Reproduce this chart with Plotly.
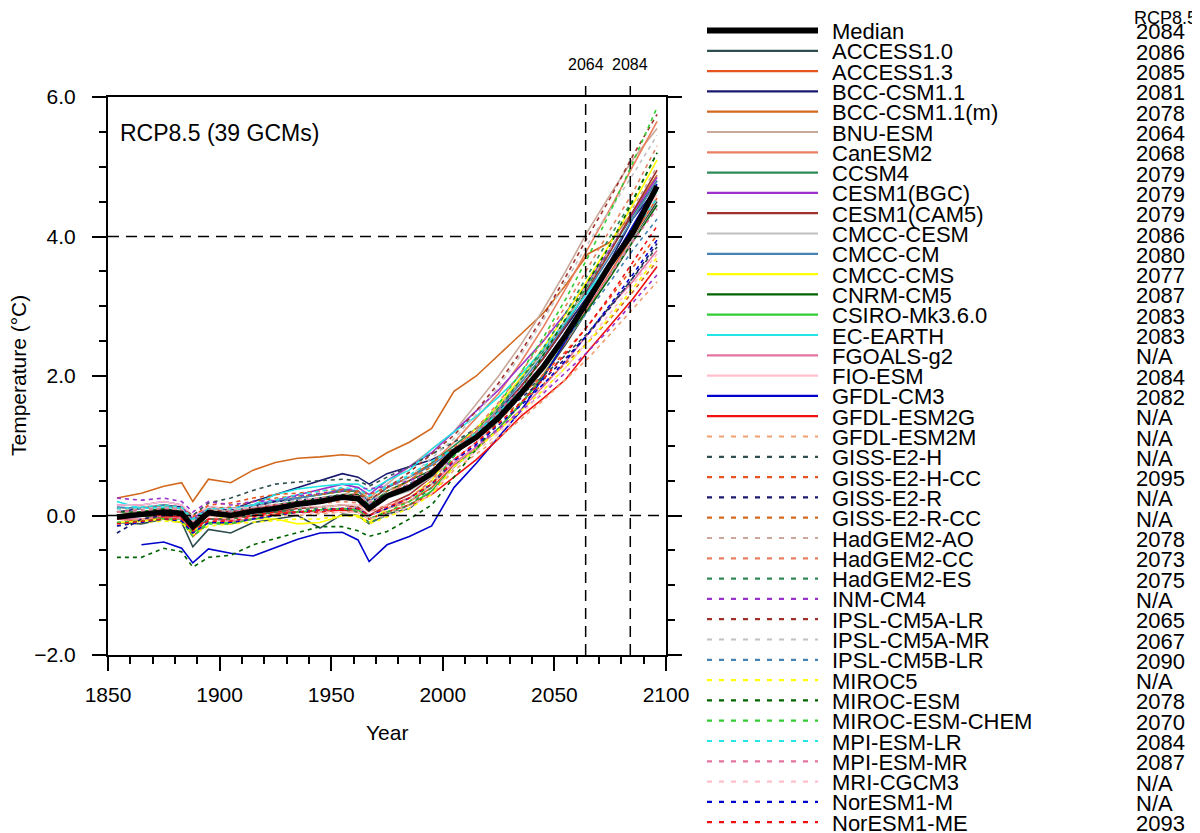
import plotly.graph_objects as go

# ---------------- data ----------------
YEARS = [1854, 1865, 1875, 1883, 1888, 1895, 1905, 1915, 1925, 1935, 1945, 1955, 1962, 1967,
         1975, 1985, 1995, 2005, 2015, 2025, 2035, 2045, 2055, 2065, 2075, 2085, 2096]

MEDIAN = [-0.02, 0.02, 0.05, 0.03, -0.16, 0.04, 0.0, 0.06, 0.1, 0.16, 0.2, 0.26, 0.24, 0.1,
          0.28, 0.4, 0.6, 0.92, 1.12, 1.4, 1.75, 2.13, 2.58, 3.08, 3.6, 4.05, 4.72]

ACCESS10 = [-0.1, -0.12, -0.05, -0.1, -0.45, -0.2, -0.25, -0.1, -0.05, 0.0, -0.18, 0.02, 0.0, -0.12, 0.02, 0.1, 0.35, 0.7, 0.95, 1.25, 1.6, 2.0, 2.45, 2.95, 3.45, 3.95, 4.5]
ACCESS13 = [-0.05, -0.08, -0.02, -0.05, -0.3, -0.1, -0.12, -0.05, 0.02, 0.05, 0.05, 0.1, 0.08, 0.0, 0.1, 0.2, 0.4, 0.72, 0.95, 1.25, 1.6, 2.02, 2.48, 2.98, 3.5, 4.0, 4.55]
BCC11 = [0.05, 0.1, 0.15, 0.12, -0.05, 0.1, 0.08, 0.2, 0.3, 0.4, 0.5, 0.6, 0.55, 0.45, 0.6, 0.7, 0.8, 0.95, 1.2, 1.5, 1.85, 2.25, 2.7, 3.15, 3.65, 4.25, 4.7]
BCC11M = [0.25, 0.32, 0.42, 0.47, 0.2, 0.52, 0.47, 0.65, 0.76, 0.82, 0.84, 0.87, 0.85, 0.74, 0.9, 1.05, 1.25, 1.78, 2.0, 2.3, 2.6, 2.9, 3.3, 3.75, 3.92, 4.35, 4.88]
BNUESM = [0.1, 0.12, 0.15, 0.1, -0.1, 0.1, 0.05, 0.12, 0.2, 0.25, 0.3, 0.35, 0.35, 0.25, 0.45, 0.7, 0.95, 1.2, 1.6, 2.0, 2.45, 2.95, 3.5, 4.08, 4.6, 5.1, 5.55]
CANESM2 = [0.0, 0.05, 0.08, 0.05, -0.2, 0.0, -0.02, 0.05, 0.12, 0.18, 0.2, 0.25, 0.22, 0.1, 0.3, 0.5, 0.75, 1.05, 1.4, 1.75, 2.2, 2.7, 3.25, 3.82, 4.4, 5.0, 5.65]
CCSM4 = [0.0, 0.05, 0.1, 0.05, -0.2, 0.05, 0.05, 0.15, 0.2, 0.25, 0.3, 0.35, 0.35, 0.2, 0.4, 0.55, 0.75, 1.0, 1.25, 1.55, 1.95, 2.35, 2.8, 3.3, 3.8, 4.3, 4.8]
CESM1BGC = [0.15, 0.15, 0.2, 0.15, -0.05, 0.12, 0.1, 0.15, 0.22, 0.3, 0.38, 0.45, 0.4, 0.3, 0.5, 0.7, 0.9, 1.2, 1.5, 1.8, 2.15, 2.5, 2.9, 3.35, 3.82, 4.32, 4.85]
CESM1CAM5 = [-0.05, 0.0, 0.02, 0.0, -0.22, -0.05, -0.05, 0.0, 0.05, 0.1, 0.12, 0.15, 0.12, 0.0, 0.15, 0.3, 0.55, 0.9, 1.15, 1.45, 1.85, 2.25, 2.72, 3.25, 3.78, 4.35, 4.95]
CMCCCESM = [0.1, 0.12, 0.1, 0.08, -0.1, 0.05, 0.05, 0.1, 0.12, 0.18, 0.2, 0.25, 0.22, 0.12, 0.25, 0.35, 0.55, 0.8, 1.05, 1.35, 1.7, 2.08, 2.5, 2.95, 3.45, 3.95, 4.45]
CMCCCM = [0.12, 0.1, 0.15, 0.1, -0.08, 0.1, 0.1, 0.15, 0.2, 0.25, 0.3, 0.38, 0.35, 0.2, 0.4, 0.55, 0.72, 0.95, 1.2, 1.52, 1.9, 2.3, 2.75, 3.22, 3.72, 4.25, 4.8]
CMCCCMS = [-0.1, -0.08, -0.05, -0.1, -0.25, 0.05, -0.08, -0.05, -0.05, -0.12, -0.1, 0.0, 0.0, -0.1, 0.1, 0.25, 0.5, 0.95, 1.25, 1.58, 1.98, 2.4, 2.88, 3.38, 3.9, 4.45, 5.1]
CNRMCM5 = [0.05, 0.05, 0.1, 0.05, -0.12, 0.05, 0.02, 0.1, 0.15, 0.2, 0.25, 0.3, 0.3, 0.15, 0.35, 0.5, 0.65, 0.88, 1.12, 1.42, 1.75, 2.12, 2.52, 2.95, 3.42, 3.92, 4.45]
CSIRO = [0.0, 0.0, -0.05, -0.05, -0.25, -0.1, -0.1, -0.05, 0.0, 0.05, 0.05, 0.1, 0.08, -0.05, 0.05, 0.15, 0.35, 0.7, 0.95, 1.25, 1.6, 2.0, 2.5, 3.05, 3.6, 4.1, 4.65]
ECEARTH = [0.2, 0.1, 0.12, 0.1, -0.1, 0.05, 0.05, 0.15, 0.3, 0.38, 0.42, 0.45, 0.45, 0.35, 0.5, 0.65, 0.95, 1.2, 1.42, 1.7, 2.02, 2.38, 2.78, 3.2, 3.62, 4.12, 4.65]
FGOALS = [-0.05, -0.05, 0.0, -0.05, -0.2, -0.05, -0.08, -0.05, 0.0, 0.05, 0.05, 0.1, 0.1, 0.0, 0.1, 0.25, 0.45, 0.75, 0.98, 1.22, 1.52, 1.85, 2.2, 2.6, 3.0, 3.35, 3.8]
FIOESM = [0.15, 0.15, 0.2, 0.15, 0.0, 0.12, 0.1, 0.12, 0.15, 0.15, 0.12, 0.15, 0.15, 0.05, 0.15, 0.25, 0.45, 0.8, 1.05, 1.38, 1.72, 2.12, 2.55, 3.02, 3.52, 4.05, 4.6]
GFDLCM3 = [None, -0.42, -0.38, -0.47, -0.68, -0.48, -0.54, -0.58, -0.46, -0.34, -0.25, -0.24, -0.35, -0.66, -0.42, -0.3, -0.15, 0.4, 0.75, 1.12, 1.5, 1.98, 2.5, 3.05, 3.6, 4.15, 4.75]
GFDLESM2G = [-0.05, 0.0, 0.0, -0.02, -0.2, -0.05, -0.05, 0.0, 0.05, 0.05, 0.05, 0.08, 0.05, -0.05, 0.05, 0.15, 0.3, 0.55, 0.8, 1.1, 1.42, 1.68, 1.95, 2.35, 2.72, 3.1, 3.57]
GFDLESM2M = [-0.1, -0.05, -0.05, -0.08, -0.25, -0.1, -0.1, -0.05, 0.0, 0.0, 0.02, 0.05, 0.05, -0.05, 0.05, 0.15, 0.3, 0.65, 0.88, 1.12, 1.38, 1.65, 1.95, 2.25, 2.6, 2.95, 3.35]
GISSE2H = [0.05, 0.1, 0.15, 0.1, 0.0, 0.18, 0.25, 0.36, 0.45, 0.48, 0.5, 0.52, 0.5, 0.42, 0.55, 0.7, 0.88, 1.05, 1.25, 1.48, 1.72, 2.0, 2.3, 2.62, 3.0, 3.4, 3.85]
GISSE2HCC = [0.05, 0.1, 0.15, 0.12, -0.02, 0.15, 0.18, 0.25, 0.3, 0.32, 0.35, 0.38, 0.35, 0.3, 0.4, 0.55, 0.75, 0.98, 1.2, 1.45, 1.72, 2.02, 2.35, 2.72, 3.12, 3.55, 4.02]
GISSE2R = [-0.25, -0.05, 0.0, 0.0, -0.15, 0.0, 0.05, 0.12, 0.2, 0.22, 0.25, 0.3, 0.28, 0.2, 0.3, 0.45, 0.65, 0.95, 1.18, 1.42, 1.68, 1.95, 2.25, 2.6, 2.98, 3.4, 3.9]
GISSE2RCC = [0.0, 0.05, 0.1, 0.08, -0.08, 0.1, 0.12, 0.2, 0.25, 0.28, 0.3, 0.35, 0.32, 0.25, 0.35, 0.5, 0.7, 0.92, 1.15, 1.38, 1.62, 1.88, 2.18, 2.48, 2.82, 3.2, 3.65]
HADGEM2AO = [0.05, 0.05, 0.1, 0.05, -0.15, 0.0, 0.0, 0.05, 0.1, 0.1, 0.12, 0.15, 0.12, 0.0, 0.1, 0.2, 0.45, 0.9, 1.2, 1.55, 1.95, 2.35, 2.8, 3.3, 3.82, 4.4, 5.0]
HADGEM2CC = [0.1, 0.1, 0.15, 0.1, -0.12, 0.05, 0.05, 0.1, 0.15, 0.15, 0.18, 0.2, 0.18, 0.05, 0.15, 0.25, 0.5, 0.95, 1.25, 1.62, 2.05, 2.5, 3.0, 3.55, 4.1, 4.62, 5.3]
HADGEM2ES = [0.0, 0.0, 0.05, 0.0, -0.2, -0.05, -0.05, 0.0, 0.05, 0.08, 0.1, 0.1, 0.05, -0.1, 0.0, 0.15, 0.4, 0.85, 1.15, 1.52, 1.95, 2.4, 2.9, 3.45, 4.0, 4.52, 5.2]
INMCM4 = [0.25, 0.22, 0.25, 0.2, 0.05, 0.2, 0.15, 0.2, 0.22, 0.28, 0.32, 0.35, 0.4, 0.38, 0.42, 0.5, 0.62, 0.8, 1.0, 1.25, 1.5, 1.75, 2.05, 2.35, 2.68, 3.05, 3.45]
IPSLCM5ALR = [0.1, 0.1, 0.12, 0.1, -0.1, 0.08, 0.05, 0.1, 0.15, 0.18, 0.2, 0.3, 0.3, 0.22, 0.4, 0.62, 0.88, 1.15, 1.5, 1.9, 2.35, 2.85, 3.42, 4.0, 4.55, 5.15, 5.75]
IPSLCM5AMR = [0.08, 0.1, 0.12, 0.1, -0.08, 0.1, 0.08, 0.12, 0.18, 0.22, 0.25, 0.3, 0.28, 0.2, 0.35, 0.55, 0.82, 1.1, 1.45, 1.85, 2.3, 2.8, 3.35, 3.9, 4.38, 4.88, 5.45]
IPSLCM5BLR = [0.0, 0.02, 0.05, 0.05, -0.12, 0.05, 0.02, 0.08, 0.12, 0.18, 0.2, 0.25, 0.25, 0.15, 0.3, 0.45, 0.65, 0.92, 1.18, 1.48, 1.8, 2.15, 2.52, 2.92, 3.35, 3.8, 4.25]
MIROC5 = [-0.15, -0.1, -0.08, -0.1, -0.28, -0.15, -0.12, -0.1, -0.08, -0.05, -0.05, 0.0, -0.02, -0.12, -0.02, 0.1, 0.3, 0.7, 0.95, 1.22, 1.5, 1.8, 2.12, 2.48, 2.85, 3.25, 3.7]
MIROCESM = [-0.6, -0.6, -0.47, -0.52, -0.74, -0.6, -0.57, -0.42, -0.33, -0.24, -0.16, -0.16, -0.22, -0.3, -0.23, -0.05, 0.15, 0.55, 0.95, 1.35, 1.8, 2.3, 2.82, 3.35, 3.88, 4.5, 5.2]
MIROCESMCHEM = [-0.1, -0.08, -0.05, -0.08, -0.3, -0.12, -0.12, -0.05, 0.0, 0.05, 0.08, 0.1, 0.08, -0.05, 0.05, 0.2, 0.45, 0.85, 1.2, 1.6, 2.05, 2.55, 3.1, 3.7, 4.35, 5.05, 5.85]
MPIESMLR = [0.1, 0.12, 0.15, 0.12, -0.05, 0.1, 0.1, 0.15, 0.22, 0.3, 0.35, 0.4, 0.38, 0.28, 0.42, 0.58, 0.78, 0.95, 1.18, 1.48, 1.8, 2.18, 2.6, 3.05, 3.55, 4.05, 4.55]
MPIESMMR = [0.05, 0.08, 0.1, 0.08, -0.1, 0.05, 0.05, 0.1, 0.15, 0.2, 0.25, 0.28, 0.28, 0.18, 0.3, 0.45, 0.65, 0.95, 1.2, 1.5, 1.82, 2.18, 2.58, 3.0, 3.45, 3.92, 4.4]
MRICGCM3 = [0.0, 0.0, 0.02, 0.0, -0.15, -0.02, -0.05, -0.02, 0.0, 0.02, 0.05, 0.05, 0.05, -0.05, 0.0, 0.12, 0.32, 0.7, 0.92, 1.18, 1.45, 1.78, 2.12, 2.5, 2.9, 3.3, 3.75]
NORESM1M = [-0.15, -0.1, -0.05, -0.08, -0.25, -0.1, -0.1, -0.05, 0.0, 0.05, 0.08, 0.1, 0.1, 0.0, 0.1, 0.25, 0.45, 0.78, 1.02, 1.3, 1.58, 1.88, 2.22, 2.6, 3.02, 3.45, 3.95]
NORESM1ME = [-0.12, -0.08, -0.05, -0.05, -0.22, -0.08, -0.08, -0.02, 0.02, 0.05, 0.08, 0.1, 0.1, 0.0, 0.12, 0.25, 0.45, 0.8, 1.05, 1.32, 1.62, 1.95, 2.32, 2.72, 3.15, 3.62, 4.15]

MODEL_NAMES = ["ACCESS1.0", "ACCESS1.3", "BCC-CSM1.1", "BCC-CSM1.1(m)", "BNU-ESM", "CanESM2",
               "CCSM4", "CESM1(BGC)", "CESM1(CAM5)", "CMCC-CESM", "CMCC-CM", "CMCC-CMS",
               "CNRM-CM5", "CSIRO-Mk3.6.0", "EC-EARTH", "FGOALS-g2", "FIO-ESM", "GFDL-CM3",
               "GFDL-ESM2G", "GFDL-ESM2M", "GISS-E2-H", "GISS-E2-H-CC", "GISS-E2-R",
               "GISS-E2-R-CC", "HadGEM2-AO", "HadGEM2-CC", "HadGEM2-ES", "INM-CM4",
               "IPSL-CM5A-LR", "IPSL-CM5A-MR", "IPSL-CM5B-LR", "MIROC5", "MIROC-ESM",
               "MIROC-ESM-CHEM", "MPI-ESM-LR", "MPI-ESM-MR", "MRI-CGCM3", "NorESM1-M",
               "NorESM1-ME"]
MODEL_VALUES = [ACCESS10, ACCESS13, BCC11, BCC11M, BNUESM, CANESM2, CCSM4, CESM1BGC, CESM1CAM5,
                CMCCCESM, CMCCCM, CMCCCMS, CNRMCM5, CSIRO, ECEARTH, FGOALS, FIOESM, GFDLCM3,
                GFDLESM2G, GFDLESM2M, GISSE2H, GISSE2HCC, GISSE2R, GISSE2RCC, HADGEM2AO,
                HADGEM2CC, HADGEM2ES, INMCM4, IPSLCM5ALR, IPSLCM5AMR, IPSLCM5BLR, MIROC5,
                MIROCESM, MIROCESMCHEM, MPIESMLR, MPIESMMR, MRICGCM3, NORESM1M, NORESM1ME]
CROSS_YEAR = ["2084", "2086", "2085", "2081", "2078", "2064", "2068", "2079", "2079", "2079",
              "2086", "2080", "2077", "2087", "2083", "2083", "N/A", "2084", "2082", "N/A",
              "N/A", "N/A", "2095", "N/A", "N/A", "2078", "2073", "2075", "N/A", "2065",
              "2067", "2090", "N/A", "2078", "2070", "2084", "2087", "N/A", "N/A", "2093"]
MARK_YEARS = [2064, 2084]
REF_TEMPS = [0.0, 4.0]

PALETTE = ["#2F4F4F", "#E8531F", "#191970", "#D2691E", "#C9A89A", "#E97F60", "#2E8B57",
           "#9932CC", "#A0302A", "#C0C0C0", "#4682B4", "#FFFF00", "#006400", "#32CD32",
           "#22E5E5", "#E5739F", "#FFC0CB", "#0000CD", "#F01010"]
COLORS = PALETTE + ["#F0A070"] + PALETTE
DASHED = [False] * 19 + [True] * 20

FONT = "Liberation Sans, Arial, Helvetica, sans-serif"

# page has an 8px body margin -> figure is drawn 8px right/down of the window corner
OFF = 8
FIG_W, FIG_H = 1200 - OFF, 833 - OFF
# plot box in window pixels
L, R, T, B = 108, 666, 97, 655
W = R - L
H = B - T


def px(xp):
    return (xp - L) / W


def py(yp):
    return (B - yp) / H


fig = go.Figure()
for name, vals, col, dsh in zip(MODEL_NAMES, MODEL_VALUES, COLORS, DASHED):
    fig.add_trace(go.Scatter(
        x=YEARS, y=vals, mode="lines", name=name, showlegend=False,
        line=dict(color=col, width=1.6, dash="4px,4px" if dsh else "solid"),
        hoverinfo="skip"))
fig.add_trace(go.Scatter(x=YEARS, y=MEDIAN, mode="lines", name="Median", showlegend=False,
                         line=dict(color="black", width=5.5), hoverinfo="skip"))

shapes = []
annotations = []
for t in REF_TEMPS:
    shapes.append(dict(type="line", xref="paper", yref="y", x0=0, x1=1, y0=t, y1=t,
                       line=dict(color="black", width=1.5, dash="11px,7px"), layer="above"))
for yr in MARK_YEARS:
    shapes.append(dict(type="line", xref="x", yref="paper", x0=yr, x1=yr, y0=0, y1=py(83),
                       line=dict(color="black", width=1.5, dash="11px,7px"), layer="above"))
    annotations.append(dict(x=yr, xref="x", y=py(64), yref="paper", text=str(yr),
                            showarrow=False, xanchor="center", yanchor="middle",
                            font=dict(family=FONT, size=16, color="black")))

annotations.append(dict(x=px(118), y=py(133), xref="paper", yref="paper",
                        text="RCP8.5 (39 GCMs)", showarrow=False, xanchor="left",
                        yanchor="middle", font=dict(family=FONT, size=23, color="black")))
annotations.append(dict(x=px(18), y=0.5, xref="paper", yref="paper",
                        text="Temperature (°C)", showarrow=False, textangle=-90,
                        xanchor="center", yanchor="middle",
                        font=dict(family=FONT, size=21, color="black")))
annotations.append(dict(x=0.5, y=py(732), xref="paper", yref="paper", text="Year",
                        showarrow=False, xanchor="center", yanchor="middle",
                        font=dict(family=FONT, size=21, color="black")))

# legend drawn manually (line sample, name, crossing year)
leg_names = ["Median"] + MODEL_NAMES
leg_colors = ["black"] + COLORS
leg_dash = [False] + DASHED
annotations.append(dict(x=px(1198), y=py(18), xref="paper", yref="paper", text="RCP8.5",
                        showarrow=False, xanchor="right", yanchor="middle", borderpad=0,
                        font=dict(family=FONT, size=18, color="black")))
for i, (nm, col, dsh, cy) in enumerate(zip(leg_names, leg_colors, leg_dash, CROSS_YEAR)):
    yrow = 30.5 + 20.3 * i
    shapes.append(dict(type="line", xref="paper", yref="paper", x0=px(707), x1=px(818),
                       y0=py(yrow), y1=py(yrow),
                       line=dict(color=col, width=6 if i == 0 else 2.2,
                                 dash="5px,7px" if dsh else "solid")))
    annotations.append(dict(x=px(830), y=py(yrow + 1), xref="paper", yref="paper", text=nm,
                            showarrow=False, xanchor="left", yanchor="middle",
                            font=dict(family=FONT, size=22, color="black")))
    annotations.append(dict(x=px(1134), y=py(yrow + 1.5), xref="paper", yref="paper", text=cy,
                            showarrow=False, xanchor="left", yanchor="middle",
                            font=dict(family=FONT, size=22, color="black")))

fig.update_layout(
    width=FIG_W, height=FIG_H, autosize=False,
    margin=dict(l=L - OFF, r=1200 - R, t=T - OFF, b=833 - B, pad=0),
    paper_bgcolor="white", plot_bgcolor="white",
    shapes=shapes, annotations=annotations, showlegend=False,
    xaxis=dict(range=[1850, 2100], tickvals=[1850, 1900, 1950, 2000, 2050, 2100],
               ticks="outside", ticklen=14, tickwidth=2, tickcolor="black",
               showline=True, linewidth=2, linecolor="black", mirror=True,
               showgrid=False, zeroline=False, ticklabelstandoff=6,
               minor=dict(dtick=10, ticklen=7, tickwidth=1.5, tickcolor="black",
                          ticks="outside", showgrid=False),
               tickfont=dict(family=FONT, size=21, color="black")),
    yaxis=dict(range=[-2, 6], tickvals=[-2, 0, 2, 4, 6], tickformat=".1f",
               ticks="outside", ticklen=14, tickwidth=2, tickcolor="black",
               showline=True, linewidth=2, linecolor="black", mirror="ticks",
               showgrid=False, zeroline=False, ticklabelstandoff=12,
               minor=dict(dtick=0.5, ticklen=7, tickwidth=1.5, tickcolor="black",
                          ticks="outside", showgrid=False),
               tickfont=dict(family=FONT, size=21, color="black")),
)

fig.write_html("out.html")
